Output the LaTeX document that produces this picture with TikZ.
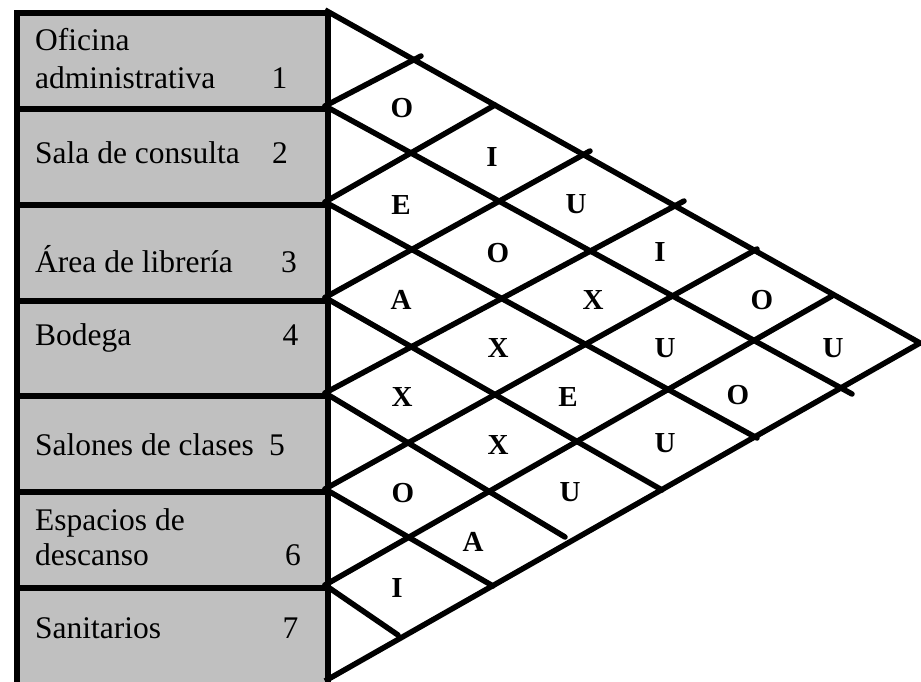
\documentclass[tikz,border=0pt]{standalone}
\usepackage{fontspec}
\setmainfont{Liberation Serif}
\definecolor{cellgray}{RGB}{192,192,192}
\begin{document}
\begin{tikzpicture}[x=1pt,y=-1pt,
  rowbox/.style={draw=black, line width=6pt, fill=cellgray, minimum width=311.5pt,
    minimum height=96pt, inner sep=0pt, anchor=north west},
  lbl/.style={font=\fontsize{31.5}{36}\selectfont, anchor=base west, inner sep=0pt},
  rel/.style={font=\fontsize{29}{32}\selectfont\bfseries, anchor=center, inner sep=0pt},
  gridline/.style={line width=5.5pt, line cap=round},
  edge/.style={line width=5.5pt, line join=miter}]
\clip (0,0) rectangle (921,681);
% left column
\node[rowbox] (r1) at (13.5,10) {};
\node[rowbox] (r2) at (13.5,106) {};
\node[rowbox] (r3) at (13.5,202) {};
\node[rowbox] (r4) at (13.5,297.5) {};
\node[rowbox] (r5) at (13.5,393) {};
\node[rowbox] (r6) at (13.5,489) {};
\node[rowbox, minimum height=130pt] (r7) at (13.5,585) {};
% texts
\node[lbl] (t1a) at (35,50) {Oficina};
\node[lbl] (t1b) at (35,88) {administrativa};
\node[lbl] (n1) at (271.5,88) {1};
\node[lbl] (t2) at (35,163) {Sala de consulta};
\node[lbl] (n2) at (272,163) {2};
\node[lbl] (t3) at (35,272) {Área de librería};
\node[lbl] (n3) at (281,272) {3};
\node[lbl] (t4) at (35,345) {Bodega};
\node[lbl] (n4) at (282.5,345) {4};
\node[lbl] (t5) at (35,455) {Salones de clases};
\node[lbl] (n5) at (269,455) {5};
\node[lbl] (t6a) at (35,530) {Espacios de};
\node[lbl] (t6b) at (35,565) {descanso};
\node[lbl] (n6) at (285,565) {6};
\node[lbl] (t7) at (35,638) {Sanitarios};
\node[lbl] (n7) at (282.5,638) {7};
% triangle corner points
\coordinate (T) at (325,10);
\coordinate (B) at (325,681);
\coordinate (A) at (920,343);
\coordinate (L1) at (325,106);
\coordinate (L2) at (325,202);
\coordinate (L3) at (325,297.5);
\coordinate (L4) at (325,393);
\coordinate (L5) at (325,489);
\coordinate (L6) at (325,585);
% ends of the down-right lines
\coordinate (d1) at (852,394);
\coordinate (d2) at (757,438);
\coordinate (d3) at (662,490);
\coordinate (d4) at (565,537);
\coordinate (d5) at (493,586);
\coordinate (d6) at (398,635);
% ends of the up-right lines
\coordinate (u1) at (421,56);
\coordinate (u2) at (495,105);
\coordinate (u3) at (590,151);
\coordinate (u4) at (684,201);
\coordinate (u5) at (757,249);
\coordinate (u6) at (832,296);
% outline
\draw[edge] (T) -- (A) -- (B);
% grid
\foreach \k in {1,...,6} {
  \draw[gridline] (L\k) -- (d\k);
  \draw[gridline] (L\k) -- (u\k);
}
% relationship letters
\node[rel] (c12) at (402,108.5) {O};
\node[rel] (c13) at (492,157) {I};
\node[rel] (c23) at (401,205) {E};
\node[rel] (c14) at (576,204) {U};
\node[rel] (c24) at (498,253) {O};
\node[rel] (c15) at (660,252) {I};
\node[rel] (c34) at (401,300) {A};
\node[rel] (c25) at (593,300) {X};
\node[rel] (c16) at (762,300) {O};
\node[rel] (c35) at (498,348) {X};
\node[rel] (c26) at (665,348) {U};
\node[rel] (c17) at (833,348) {U};
\node[rel] (c45) at (402,397) {X};
\node[rel] (c36) at (568,397) {E};
\node[rel] (c27) at (738,395) {O};
\node[rel] (c46) at (498,445) {X};
\node[rel] (c37) at (665,443) {U};
\node[rel] (c56) at (403,493) {O};
\node[rel] (c47) at (570,492) {U};
\node[rel] (c57) at (473,542) {A};
\node[rel] (c67) at (397,588) {I};
\end{tikzpicture}
\end{document}
